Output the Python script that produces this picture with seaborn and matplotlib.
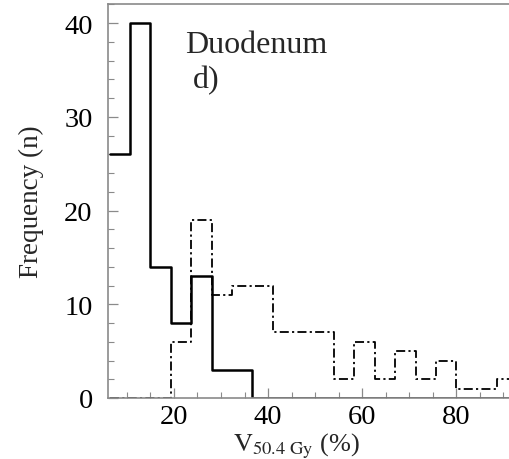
import numpy as np
import pandas as pd
import matplotlib
matplotlib.use("Agg")
import matplotlib.pyplot as plt
import seaborn as sns
from matplotlib.ticker import MultipleLocator

# ---- data ----
bin_edges = [6.33, 10.67, 15.0, 19.33, 23.67, 28.0, 32.33, 36.67, 41.0, 45.33,
             49.67, 54.0, 58.33, 62.67, 67.0, 71.33, 75.67, 80.0, 84.33, 88.67, 93.0]
solid_counts = [26, 40, 14, 8, 13, 3, 3, 0, 0, 0, 0, 0, 0, 0, 0, 0, 0, 0, 0, 0]
dashdot_counts = [0, 0, 0, 6, 19, 11, 12, 12, 7, 7, 7, 2, 6, 2, 5, 2, 4, 1, 1, 2]
x_ticks = [20, 40, 60, 80]
y_ticks = [0, 10, 20, 30, 40]
title_text = "Duodenum"
panel_text = "d)"
x_label = r"$\mathrm{V}_{\mathrm{50.4\ Gy}}$ (%)"
y_label = "Frequency (n)"

edges = np.array(bin_edges)
centers = (edges[:-1] + edges[1:]) / 2
df = pd.DataFrame({"center": centers, "solid": solid_counts, "dashdot": dashdot_counts})

sns.set_theme(style="ticks")
plt.rcParams["font.family"] = ["Liberation Serif", "DejaVu Serif"]
plt.rcParams["mathtext.fontset"] = "stix"

fig = plt.figure(figsize=(5.1, 4.6), dpi=100)
ax = fig.add_axes([108 / 510, 1 - 399 / 460, 402 / 510, 394 / 460])

sns.histplot(data=df, x="center", weights="dashdot", bins=list(bin_edges), element="step",
             fill=False, color="black", linewidth=1.3,
             linestyle=(0, (5, 1.8, 1.2, 1.8)), ax=ax)
sns.histplot(data=df, x="center", weights="solid", bins=list(bin_edges), element="step",
             fill=False, color="black", linewidth=1.8, ax=ax)

ax.set_xlim(6.0, 91.4)
ax.set_ylim(0, 42.05)
ax.set_xticks(x_ticks)
ax.set_yticks(y_ticks)
ax.xaxis.set_minor_locator(MultipleLocator(5))
ax.yaxis.set_minor_locator(MultipleLocator(2))

spine_col = "#8a8a8a"
for side in ["left", "bottom", "top"]:
    ax.spines[side].set_color(spine_col)
    ax.spines[side].set_linewidth(1.2)
ax.spines["right"].set_visible(False)

ax.tick_params(axis="both", which="major", direction="in", length=7, width=0.9,
               color=spine_col, labelsize=20.5, labelcolor="black")
ax.tick_params(axis="both", which="minor", direction="in", length=4, width=0.8,
               color=spine_col)
ax.tick_params(axis="y", which="both", pad=11)
ax.tick_params(axis="x", which="both", pad=4)

ax.set_xlabel(x_label, fontsize=19)
ax.set_ylabel(y_label, fontsize=19.5)
ax.xaxis.set_label_coords(0.468, -0.083)
ax.yaxis.set_label_coords(-0.158, 0.5)

ax.text(0.1915, 0.878, title_text, transform=ax.transAxes, fontsize=23,
        va="baseline", ha="left")
ax.text(0.2114, 0.79, panel_text, transform=ax.transAxes, fontsize=23,
        va="baseline", ha="left")

fig.savefig("out.png", dpi=100)
